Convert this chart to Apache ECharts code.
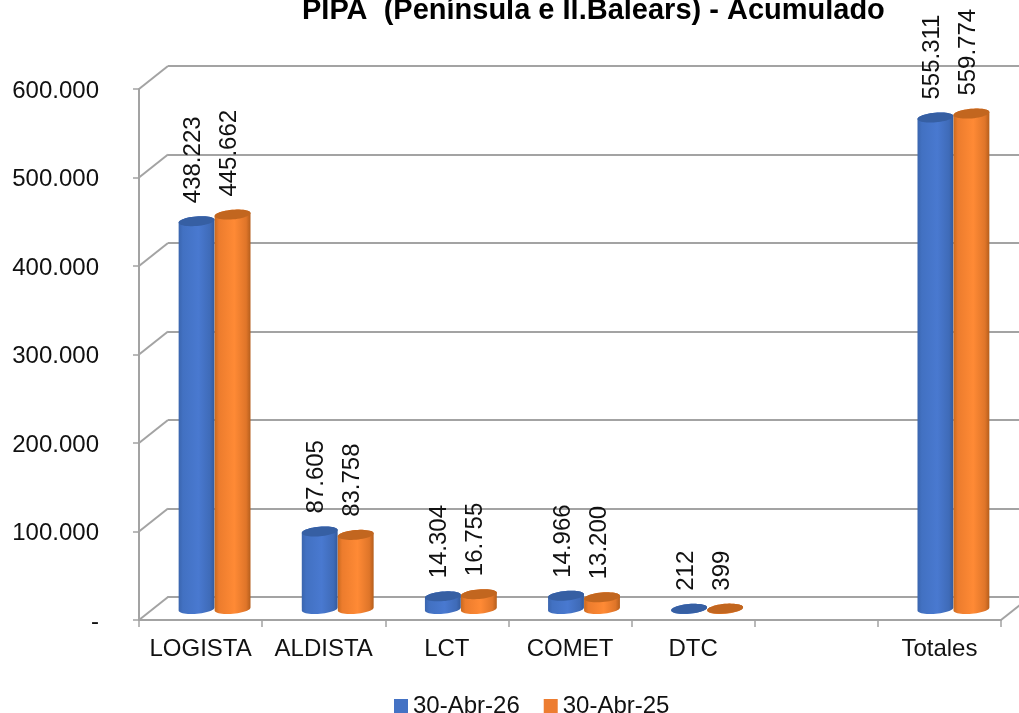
<!DOCTYPE html>
<html>
<head>
<meta charset="utf-8">
<style>
    html, body { margin: 0; padding: 0; background: #fff; }
    #chart { width: 1019px; height: 713px; }
</style>
<script src="https://cdn.jsdelivr.net/npm/echarts@6/dist/echarts.min.js"></script>
</head>
<body>
<div id="chart"></div>
<script>
const categories = ["LOGISTA", "ALDISTA", "LCT", "COMET", "DTC", "", "Totales"];
const yTicks = [0, 100000, 200000, 300000, 400000, 500000, 600000];
const abr26 = [438223, 87605, 14304, 14966, 212, null, 555311];
const abr25 = [445662, 83758, 16755, 13200, 399, null, 559774];
const abr26Name = "30-Abr-26";
const abr25Name = "30-Abr-25";

const FONT = '"Liberation Sans", Arial, sans-serif';
const GRID_GRAY = "#a3a3a3";
// profundidad del falso 3D
const DEPTH_X = 29, DEPTH_Y = -23;
const BAR_SHIFT_X = 14, BAR_SHIFT_Y = -11;
const BAR_RX = 18, BAR_RY = 4.8, BAR_TILT = -5 * Math.PI / 180;

function fmt(v) {
    return v === 0 ? "-" : String(v).replace(/\B(?=(\d{3})+$)/g, ".");
}

function ellipsePoints(cx, cy, from, to) {
    let pts = [];
    for (let a = from; a <= to + 0.001; a += Math.PI / 24) {
        let ex = BAR_RX * Math.cos(a), ey = BAR_RY * Math.sin(a);
        pts.push([
            cx + ex * Math.cos(BAR_TILT) - ey * Math.sin(BAR_TILT),
            cy + ex * Math.sin(BAR_TILT) + ey * Math.cos(BAR_TILT)
        ]);
    }
    return pts;
}

function barSeries(name, values, side, colors) {
    return {
        name: name,
        type: "custom",
        xAxisIndex: 0,
        yAxisIndex: 0,
        z: 5,
        itemStyle: {color: colors.legend},
        data: values.map((v, i) => [i, v]).filter(d => d[1] !== null),
        encode: {x: 0, y: 1},
        renderItem(params, api) {
            let value = api.value(1);
            let top = api.coord([api.value(0), value]);
            let base = api.coord([api.value(0), 0]);
            let cx = top[0] + BAR_SHIFT_X + side * BAR_RX;
            let topY = top[1] + BAR_SHIFT_Y;
            let baseY = base[1] + BAR_SHIFT_Y;
            let body = ellipsePoints(cx, baseY, 0, Math.PI)
                .concat(ellipsePoints(cx, topY, Math.PI, 2 * Math.PI));
            return {
                type: "group",
                children: [
                    {
                        type: "polygon",
                        shape: {points: body},
                        style: {
                            fill: new echarts.graphic.LinearGradient(0, 0, 1, 0, colors.body)
                        }
                    },
                    {
                        type: "polygon",
                        shape: {points: ellipsePoints(cx, topY, 0, 2 * Math.PI)},
                        style: {fill: colors.top}
                    },
                    {
                        type: "text",
                        x: cx - 3,
                        y: topY - 18,
                        rotation: Math.PI / 2,
                        style: {
                            text: fmt(value),
                            font: "24px " + FONT,
                            fill: "#111",
                            textAlign: "left",
                            textVerticalAlign: "middle"
                        }
                    }
                ]
            };
        }
    };
}

const blueColors = {
    legend: "#4472c4",
    top: "#365fa3",
    body: [
        {offset: 0, color: "#3a65ae"},
        {offset: 0.12, color: "#4271c2"},
        {offset: 0.55, color: "#4979d0"},
        {offset: 0.88, color: "#3f6bb8"},
        {offset: 1, color: "#345a9c"}
    ]
};
const orangeColors = {
    legend: "#ed7d31",
    top: "#c2661f",
    body: [
        {offset: 0, color: "#c9691f"},
        {offset: 0.12, color: "#ec7c2d"},
        {offset: 0.55, color: "#ff8a35"},
        {offset: 0.88, color: "#df7529"},
        {offset: 1, color: "#b55e1c"}
    ]
};

let option = {
    animation: false,
    backgroundColor: "#fff",
    textStyle: {fontFamily: FONT},
    title: {
        text: "PIPA  (Península e Il.Balears) - Acumulado",
        left: 297,
        top: -9,
        textStyle: {fontFamily: FONT, fontSize: 29, fontWeight: "bold", color: "#000"}
    },
    legend: {
        left: 389,
        top: 689,
        icon: "rect",
        itemWidth: 14,
        itemHeight: 14,
        itemGap: 24,
        selectedMode: false,
        textStyle: {fontFamily: FONT, fontSize: 24, color: "#111"},
        data: [abr26Name, abr25Name]
    },
    // grid 0: plano frontal con los ejes, grid 1: pared del fondo
    grid: [
        {left: 139, top: 89, width: 862, height: 531},
        {left: 139 + DEPTH_X, top: 89 + DEPTH_Y, width: 862, height: 531}
    ],
    xAxis: [
        {
            type: "category",
            gridIndex: 0,
            data: categories,
            axisLine: {lineStyle: {color: GRID_GRAY, width: 2}},
            axisTick: {show: true, alignWithLabel: false, length: 7, lineStyle: {color: GRID_GRAY, width: 1.5}},
            axisLabel: {color: "#111", fontSize: 24, fontFamily: FONT, margin: 17, interval: 0}
        },
        {
            type: "category",
            gridIndex: 1,
            data: categories,
            axisLine: {lineStyle: {color: GRID_GRAY, width: 2}},
            axisTick: {show: false},
            axisLabel: {show: false}
        }
    ],
    yAxis: [
        {
            type: "value",
            gridIndex: 0,
            min: 0,
            max: 600000,
            interval: 100000,
            axisLine: {show: true, lineStyle: {color: GRID_GRAY, width: 2}},
            axisTick: {show: true, length: 6, lineStyle: {color: GRID_GRAY, width: 1.5}},
            splitLine: {show: false},
            axisLabel: {
                margin: 40,
                formatter: v => "{a|" + fmt(v) + "}",
                rich: {a: {color: "#111", fontSize: 24, fontFamily: FONT, padding: [4, 0, 0, 0]}}
            }
        },
        {
            type: "value",
            gridIndex: 1,
            min: 0,
            max: 600000,
            interval: 100000,
            axisLine: {show: false},
            axisTick: {show: false},
            axisLabel: {show: false},
            splitLine: {show: true, lineStyle: {color: GRID_GRAY, width: 2}}
        }
    ],
    series: [
        {
            // diagonales de la pared lateral y del suelo
            type: "custom",
            xAxisIndex: 0,
            yAxisIndex: 0,
            z: 1,
            silent: true,
            data: yTicks.map((t, i) => [i, t]),
            encode: {y: 1},
            renderItem(params, api) {
                let tick = api.value(1);
                let x = params.coordSys.x;
                let y = api.coord([0, tick])[1];
                let lineStyle = {stroke: GRID_GRAY, lineWidth: 2, fill: null};
                let children = [{
                    type: "line",
                    shape: {x1: x, y1: y, x2: x + DEPTH_X, y2: y + DEPTH_Y},
                    style: lineStyle
                }];
                if (tick === 0) {
                    let xr = x + params.coordSys.width;
                    children.push({
                        type: "line",
                        shape: {x1: xr, y1: y, x2: xr + DEPTH_X, y2: y + DEPTH_Y},
                        style: lineStyle
                    });
                }
                return {type: "group", children: children};
            }
        },
        barSeries(abr26Name, abr26, -1, blueColors),
        barSeries(abr25Name, abr25, 1, orangeColors)
    ]
};

let chart = echarts.init(document.getElementById("chart"));
chart.setOption(option);
</script>
</body>
</html>
